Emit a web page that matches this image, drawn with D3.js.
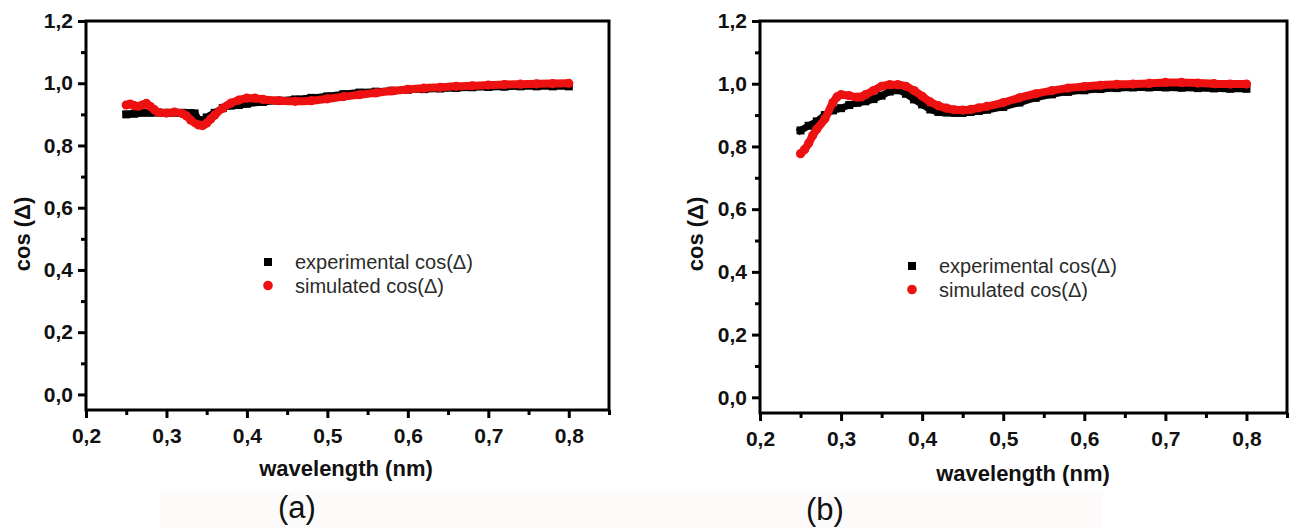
<!DOCTYPE html>
<html>
<head>
<meta charset="utf-8">
<script src="https://cdn.jsdelivr.net/npm/d3@7"></script>
<style>
  html, body { margin: 0; padding: 0; background: #ffffff; }
  svg { display: block; }
</style>
</head>
<body>
<svg id="chart" width="1290" height="528"></svg>
<script>
// ---------- data ----------
const xMajorTicks = [0.2, 0.3, 0.4, 0.5, 0.6, 0.7, 0.8];
const xMinorTicks = [0.25, 0.35, 0.45, 0.55, 0.65, 0.75, 0.85];
const yMajorTicks = [0.0, 0.2, 0.4, 0.6, 0.8, 1.0, 1.2];
const yMinorTicks = [0.1, 0.3, 0.5, 0.7, 0.9, 1.1];
const xTickLabels = ["0,2", "0,3", "0,4", "0,5", "0,6", "0,7", "0,8"];
const yTickLabels = ["0,0", "0,2", "0,4", "0,6", "0,8", "1,0", "1,2"];
const seriesNames = ["experimental cos(\u0394)", "simulated cos(\u0394)"];
const panelNames = ["(a)", "(b)"];
const xTitle = "wavelength (nm)";
const yTitle = "cos (\u0394)";

// panel (a)
const expA_wl  = [0.25, 0.26, 0.27, 0.28, 0.29, 0.30, 0.31, 0.32, 0.33, 0.335, 0.34, 0.345, 0.35, 0.36, 0.37, 0.38, 0.39, 0.40, 0.42, 0.44, 0.46, 0.48, 0.50, 0.52, 0.54, 0.56, 0.58, 0.60, 0.62, 0.64, 0.66, 0.68, 0.70, 0.72, 0.74, 0.76, 0.78, 0.80];
const expA_val = [0.900, 0.902, 0.905, 0.905, 0.906, 0.905, 0.905, 0.905, 0.904, 0.903, 0.882, 0.878, 0.890, 0.905, 0.920, 0.928, 0.930, 0.934, 0.940, 0.944, 0.948, 0.953, 0.958, 0.965, 0.970, 0.973, 0.976, 0.979, 0.981, 0.983, 0.985, 0.987, 0.988, 0.989, 0.990, 0.990, 0.990, 0.990];
const simA_wl  = [0.25, 0.255, 0.26, 0.265, 0.27, 0.275, 0.28, 0.285, 0.29, 0.30, 0.31, 0.32, 0.325, 0.33, 0.34, 0.345, 0.35, 0.355, 0.36, 0.37, 0.38, 0.39, 0.40, 0.41, 0.42, 0.44, 0.46, 0.48, 0.50, 0.52, 0.54, 0.56, 0.58, 0.60, 0.62, 0.64, 0.66, 0.68, 0.70, 0.72, 0.74, 0.76, 0.78, 0.80];
const simA_val = [0.930, 0.933, 0.928, 0.926, 0.930, 0.935, 0.925, 0.915, 0.906, 0.904, 0.907, 0.902, 0.895, 0.882, 0.866, 0.864, 0.872, 0.885, 0.898, 0.920, 0.936, 0.946, 0.952, 0.952, 0.948, 0.944, 0.942, 0.944, 0.950, 0.957, 0.963, 0.969, 0.975, 0.980, 0.984, 0.987, 0.990, 0.992, 0.994, 0.996, 0.997, 0.998, 0.999, 1.000];

// panel (b)
const expB_wl  = [0.25, 0.26, 0.27, 0.28, 0.29, 0.30, 0.31, 0.32, 0.33, 0.34, 0.35, 0.36, 0.37, 0.38, 0.39, 0.40, 0.41, 0.42, 0.43, 0.44, 0.45, 0.46, 0.47, 0.48, 0.50, 0.52, 0.54, 0.56, 0.58, 0.60, 0.62, 0.64, 0.66, 0.68, 0.70, 0.72, 0.74, 0.76, 0.78, 0.80];
const expB_val = [0.851, 0.866, 0.880, 0.900, 0.915, 0.922, 0.932, 0.939, 0.944, 0.951, 0.962, 0.975, 0.979, 0.968, 0.950, 0.934, 0.918, 0.910, 0.908, 0.907, 0.907, 0.910, 0.913, 0.917, 0.926, 0.940, 0.955, 0.966, 0.974, 0.979, 0.983, 0.986, 0.988, 0.988, 0.988, 0.987, 0.986, 0.985, 0.984, 0.984];
const simB_wl  = [0.25, 0.255, 0.26, 0.265, 0.27, 0.28, 0.29, 0.295, 0.30, 0.31, 0.32, 0.325, 0.33, 0.34, 0.35, 0.36, 0.37, 0.38, 0.39, 0.40, 0.41, 0.42, 0.43, 0.44, 0.45, 0.46, 0.47, 0.48, 0.50, 0.52, 0.54, 0.56, 0.58, 0.60, 0.62, 0.64, 0.66, 0.68, 0.70, 0.72, 0.74, 0.76, 0.78, 0.80];
const simB_val = [0.777, 0.790, 0.810, 0.835, 0.855, 0.888, 0.940, 0.958, 0.965, 0.962, 0.957, 0.958, 0.965, 0.978, 0.992, 0.997, 0.997, 0.992, 0.978, 0.960, 0.942, 0.930, 0.922, 0.917, 0.916, 0.918, 0.923, 0.928, 0.940, 0.955, 0.968, 0.978, 0.986, 0.991, 0.995, 0.998, 0.999, 1.001, 1.004, 1.004, 1.002, 1.000, 0.999, 0.999];

// ---------- drawing ----------
const svg = d3.select("#chart");
const FONT = "'Liberation Sans', Arial, Helvetica, sans-serif";

// very faint off-white strip at the bottom of the scan
svg.append("rect").attr("x", 160).attr("y", 491).attr("width", 943).attr("height", 37).attr("fill", "#fcfbfa");

function zip(a, b) { return a.map((v, i) => ({ x: v, y: b[i] })); }

function drawPanel(cfg) {
  const x = d3.scaleLinear().domain([0.2, 0.85]).range([cfg.left, cfg.right]);
  const y = d3.scaleLinear().domain([-0.05, 1.2]).range([cfg.bottom, cfg.top]);
  const g = svg.append("g");

  // minor ticks
  g.append("g").attr("transform", `translate(0,${cfg.bottom})`)
    .call(d3.axisBottom(x).tickValues(xMinorTicks).tickSize(5).tickFormat(""))
    .call(s => s.select(".domain").remove())
    .call(s => s.selectAll("line").attr("stroke", "#000").attr("stroke-width", 3));
  g.append("g").attr("transform", `translate(${cfg.left},0)`)
    .call(d3.axisLeft(y).tickValues(yMinorTicks).tickSize(5).tickFormat(""))
    .call(s => s.select(".domain").remove())
    .call(s => s.selectAll("line").attr("stroke", "#000").attr("stroke-width", 3));

  // major ticks + labels
  g.append("g").attr("transform", `translate(0,${cfg.bottom})`)
    .call(d3.axisBottom(x).tickValues(xMajorTicks).tickSize(8).tickPadding(10)
      .tickFormat((d, i) => xTickLabels[i]))
    .call(s => s.select(".domain").remove())
    .call(s => s.selectAll("line").attr("stroke", "#000").attr("stroke-width", 3))
    .call(s => s.selectAll("text").attr("fill", "#111").attr("font-family", FONT)
      .attr("font-weight", "bold").attr("font-size", 21));
  g.append("g").attr("transform", `translate(${cfg.left},0)`)
    .call(d3.axisLeft(y).tickValues(yMajorTicks).tickSize(8).tickPadding(5)
      .tickFormat((d, i) => yTickLabels[i]))
    .call(s => s.select(".domain").remove())
    .call(s => s.selectAll("line").attr("stroke", "#000").attr("stroke-width", 3))
    .call(s => s.selectAll("text").attr("fill", "#111").attr("font-family", FONT)
      .attr("font-weight", "bold").attr("font-size", 21));

  // data
  const line = d3.line().x(d => x(d.x)).y(d => y(d.y)).curve(d3.curveMonotoneX);
  const exp = zip(cfg.expWl, cfg.expVal);
  const sim = zip(cfg.simWl, cfg.simVal);

  g.append("path").datum(exp).attr("d", line).attr("fill", "none")
    .attr("stroke", "#000").attr("stroke-width", 7).attr("stroke-linecap", "square");
  g.append("g").selectAll("rect").data(exp).join("rect")
    .attr("x", d => x(d.x) - 4).attr("y", d => y(d.y) - 4)
    .attr("width", 8).attr("height", 8).attr("fill", "#000");

  g.append("path").datum(sim).attr("d", line).attr("fill", "none")
    .attr("stroke", "#ee1111").attr("stroke-width", 8).attr("stroke-linecap", "round")
    .attr("stroke-linejoin", "round");
  g.append("g").selectAll("circle").data(sim).join("circle")
    .attr("cx", d => x(d.x)).attr("cy", d => y(d.y)).attr("r", 4.6).attr("fill", "#ee1111");

  // frame
  g.append("rect").attr("x", cfg.left).attr("y", cfg.top)
    .attr("width", cfg.right - cfg.left).attr("height", cfg.bottom - cfg.top)
    .attr("fill", "none").attr("stroke", "#000").attr("stroke-width", 3);

  // legend
  g.append("rect").attr("x", cfg.legX - 4).attr("y", cfg.legY - 4).attr("width", 8).attr("height", 8).attr("fill", "#000");
  g.append("circle").attr("cx", cfg.legX).attr("cy", cfg.legY + 23.5).attr("r", 4.8).attr("fill", "#ee1111");
  g.append("text").attr("x", cfg.legX + 27).attr("y", cfg.legY + 7)
    .attr("font-family", FONT).attr("font-size", 20).attr("fill", "#2b2b2b").text(seriesNames[0]);
  g.append("text").attr("x", cfg.legX + 27).attr("y", cfg.legY + 30.5)
    .attr("font-family", FONT).attr("font-size", 20).attr("fill", "#2b2b2b").text(seriesNames[1]);

  // axis titles
  g.append("text").attr("x", cfg.xTitleX).attr("y", cfg.xTitleY).attr("text-anchor", "middle")
    .attr("font-family", FONT).attr("font-weight", "bold").attr("font-size", 22).attr("fill", "#111")
    .text(xTitle);
  g.append("text").attr("transform", `translate(${cfg.yTitleX},${cfg.yTitleY}) rotate(-90)`)
    .attr("text-anchor", "middle").attr("dominant-baseline", "central")
    .attr("font-family", FONT).attr("font-weight", "bold").attr("font-size", 22).attr("fill", "#111")
    .text(yTitle);

  // panel letter
  g.append("text").attr("x", cfg.tagX).attr("y", cfg.tagY).attr("text-anchor", "middle")
    .attr("font-family", FONT).attr("font-size", 31).attr("fill", "#111").text(cfg.tag);
}

drawPanel({
  left: 86, right: 609, top: 21, bottom: 410,
  expWl: expA_wl, expVal: expA_val, simWl: simA_wl, simVal: simA_val,
  legX: 268, legY: 262,
  xTitleX: 346, xTitleY: 476, yTitleX: 22, yTitleY: 234,
  tag: panelNames[0], tagX: 297, tagY: 518
});
drawPanel({
  left: 760, right: 1287, top: 21, bottom: 413,
  expWl: expB_wl, expVal: expB_val, simWl: simB_wl, simVal: simB_val,
  legX: 912, legY: 266,
  xTitleX: 1023, xTitleY: 481, yTitleX: 695, yTitleY: 234,
  tag: panelNames[1], tagX: 825, tagY: 520
});
</script>
</body>
</html>
